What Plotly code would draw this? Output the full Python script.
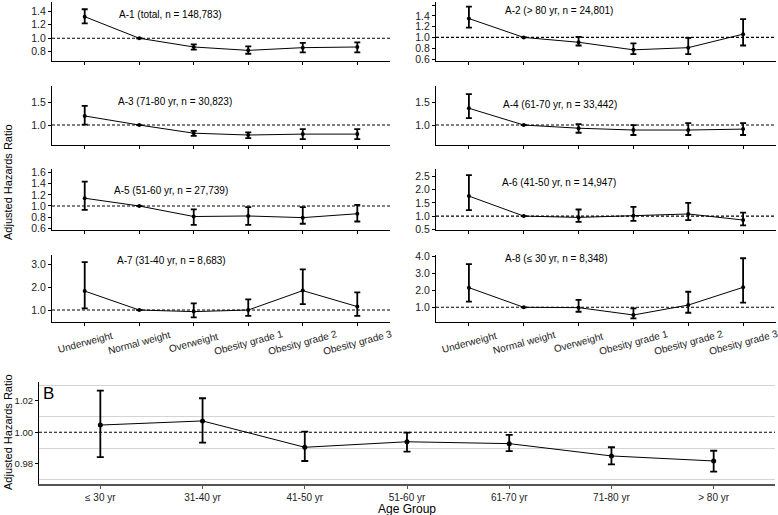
import plotly.graph_objects as go

W, H = 778, 515

# ---------------- data ----------------
bmi_categories = ["Underweight", "Normal weight", "Overweight",
                  "Obesity grade 1", "Obesity grade 2", "Obesity grade 3"]

panel_titles = ["A-1 (total, n = 148,783)", "A-2 (> 80 yr, n = 24,801)",
                "A-3 (71-80 yr, n = 30,823)", "A-4 (61-70 yr, n = 33,442)",
                "A-5 (51-60 yr, n = 27,739)", "A-6 (41-50 yr, n = 14,947)",
                "A-7 (31-40 yr, n = 8,683)", "A-8 (\u2264 30 yr, n = 8,348)"]

a1_hr = [1.32, 1.00, 0.87, 0.82, 0.86, 0.87]
a1_lo = [1.22, None, 0.83, 0.77, 0.79, 0.79]
a1_hi = [1.43, None, 0.91, 0.88, 0.93, 0.94]

a2_hr = [1.35, 1.00, 0.91, 0.77, 0.81, 1.06]
a2_lo = [1.18, None, 0.85, 0.69, 0.69, 0.85]
a2_hi = [1.57, None, 1.01, 0.89, 0.99, 1.34]

a3_hr = [1.20, 1.00, 0.82, 0.78, 0.80, 0.80]
a3_lo = [1.01, None, 0.76, 0.71, 0.69, 0.69]
a3_hi = [1.42, None, 0.87, 0.84, 0.91, 0.91]

a4_hr = [1.37, 1.00, 0.93, 0.89, 0.89, 0.91]
a4_lo = [1.15, None, 0.83, 0.78, 0.78, 0.78]
a4_hi = [1.68, None, 1.02, 1.00, 1.04, 1.04]

a5_hr = [1.14, 1.00, 0.81, 0.82, 0.79, 0.86]
a5_lo = [0.93, None, 0.66, 0.66, 0.68, 0.72]
a5_hi = [1.44, None, 0.94, 0.98, 0.98, 1.02]

a6_hr = [1.76, 1.00, 0.95, 1.01, 1.08, 0.85]
a6_lo = [1.23, None, 0.78, 0.82, 0.85, 0.65]
a6_hi = [2.56, None, 1.25, 1.35, 1.50, 1.13]

a7_hr = [1.83, 1.00, 0.93, 1.00, 1.85, 1.15]
a7_lo = [1.07, None, 0.68, 0.74, 1.26, 0.74]
a7_hi = [3.10, None, 1.29, 1.47, 2.78, 1.77]

a8_hr = [2.15, 1.00, 0.98, 0.55, 1.13, 2.17]
a8_lo = [1.33, None, 0.74, 0.35, 0.68, 1.27]
a8_hi = [3.53, None, 1.43, 0.94, 1.91, 3.87]

a_ticks = [[0.8, 1.0, 1.2, 1.4], [0.6, 0.8, 1.0, 1.2, 1.4, 1.6],
           [1.0, 1.5], [1.0, 1.5],
           [0.6, 0.8, 1.0, 1.2, 1.4, 1.6], [0.5, 1.0, 1.5, 2.0, 2.5],
           [1.0, 2.0, 3.0], [1.0, 2.0, 3.0, 4.0]]
a_ranges = [[0.662, 1.538], [0.563, 1.656], [0.56, 1.86], [0.56, 1.86],
            [0.576, 1.667], [0.49, 2.79], [0.475, 3.41], [0.14, 4.06]]

age_groups = ["\u2264 30 yr", "31-40 yr", "41-50 yr", "51-60 yr",
              "61-70 yr", "71-80 yr", "> 80 yr"]
b_hr = [1.0046, 1.0072, 0.9905, 0.9940, 0.9928, 0.9850, 0.9818]
b_lo = [0.9843, 0.9934, 0.9818, 0.9877, 0.9881, 0.9797, 0.9750]
b_hi = [1.0264, 1.0216, 1.0004, 0.9998, 0.9983, 0.9905, 0.9883]
b_ticks = [0.98, 1.00, 1.02]
b_grid = [0.97, 0.99, 1.01, 1.03]
b_range = [0.9672, 1.0319]

a_series = [(a1_hr, a1_lo, a1_hi), (a2_hr, a2_lo, a2_hi), (a3_hr, a3_lo, a3_hi),
            (a4_hr, a4_lo, a4_hi), (a5_hr, a5_lo, a5_hi), (a6_hr, a6_lo, a6_hi),
            (a7_hr, a7_lo, a7_hi), (a8_hr, a8_lo, a8_hi)]

# ---------------- layout helpers ----------------
FONT = "Liberation Sans, Arial, sans-serif"
TICKCOL = "#222222"

def xd(a, b):
    return [a / W, b / W]

def yd(top, bot):
    return [1 - bot / H, 1 - top / H]

col_x = [xd(52, 390), xd(436, 776)]
row_y = [yd(2, 61), yd(86, 145), yd(169, 229.5), yd(255, 322)]
title_pos = [(170, 14), (559, 11), (175, 102), (560, 104),
             (171, 191), (559, 182), (171, 260), (556, 258)]

fig = go.Figure()
layout = dict(template="none", width=W, height=H,
              margin=dict(l=0, r=0, t=0, b=0, pad=0),
              paper_bgcolor="white", plot_bgcolor="white", showlegend=False,
              font=dict(family=FONT, color="black"))
annotations = []
shapes = []

def err_arrays(hr, lo, hi):
    plus = [None if h is None else h - v for v, h in zip(hr, hi)]
    minus = [None if l is None else v - l for v, l in zip(hr, lo)]
    return plus, minus

for i, (hr, lo, hi) in enumerate(a_series):
    n = i + 1
    row, col = i // 2, i % 2
    xa = "x" if n == 1 else f"x{n}"
    ya = "y" if n == 1 else f"y{n}"
    plus, minus = err_arrays(hr, lo, hi)
    fig.add_trace(go.Scatter(
        x=bmi_categories, y=hr, xaxis=xa, yaxis=ya, mode="lines+markers",
        line=dict(color="black", width=1),
        marker=dict(color="black", size=4),
        error_y=dict(type="data", symmetric=False, array=plus, arrayminus=minus,
                     color="black", thickness=1.8, width=3),
        hoverinfo="skip"))
    layout["xaxis" if n == 1 else f"xaxis{n}"] = dict(
        domain=col_x[col], anchor=ya, type="category",
        categoryorder="array", categoryarray=bmi_categories,
        range=[-0.6, 5.6], showline=True, linecolor="black", linewidth=1,
        ticks="outside", ticklen=3, tickcolor="black", tickwidth=1,
        showticklabels=False, showgrid=False, zeroline=False, fixedrange=True,
        automargin=False)
    layout["yaxis" if n == 1 else f"yaxis{n}"] = dict(
        domain=row_y[row], anchor=xa, range=a_ranges[i],
        tickvals=a_ticks[i], ticktext=[f"{v:.1f}" for v in a_ticks[i]],
        showline=True, linecolor="black", linewidth=1,
        ticks="outside", ticklen=3, tickcolor="black", tickwidth=1,
        tickfont=dict(size=10.5, color=TICKCOL, family=FONT),
        showgrid=False, zeroline=False, fixedrange=True, automargin=False)
    shapes.append(dict(type="line", xref=f"{xa} domain", yref=ya,
                       x0=0, x1=1, y0=1, y1=1, layer="below",
                       line=dict(color="black", width=1.1, dash="3px,2px")))
    tx, ty = title_pos[i]
    annotations.append(dict(text=panel_titles[i], x=tx / W, y=1 - ty / H,
                            xref="paper", yref="paper", showarrow=False,
                            xanchor="center", yanchor="middle",
                            font=dict(size=10, color="black", family=FONT)))
    if row == 3:
        for c in bmi_categories:
            annotations.append(dict(text=c, x=c, xref=xa, y=1 - 342 / H,
                                    yref="paper", showarrow=False, textangle=-15,
                                    xanchor="center", yanchor="middle",
                                    font=dict(size=10, color=TICKCOL, family=FONT)))

# ---------------- panel B ----------------
plus, minus = err_arrays(b_hr, b_lo, b_hi)
fig.add_trace(go.Scatter(
    x=age_groups, y=b_hr, xaxis="x9", yaxis="y9", mode="lines+markers",
    line=dict(color="black", width=1),
    marker=dict(color="black", size=5),
    error_y=dict(type="data", symmetric=False, array=plus, arrayminus=minus,
                 color="black", thickness=1.8, width=3.5),
    hoverinfo="skip"))
layout["xaxis9"] = dict(
    domain=xd(39, 775), anchor="y9", type="category",
    categoryorder="array", categoryarray=age_groups, range=[-0.6, 6.6],
    showline=True, linecolor="#555555", linewidth=2.2,
    ticks="outside", ticklen=3, tickcolor="#555555", tickwidth=1,
    tickfont=dict(size=10, color=TICKCOL, family=FONT),
    showgrid=False, zeroline=False, fixedrange=True, automargin=False)
layout["yaxis9"] = dict(
    domain=yd(382, 484), anchor="x9", range=b_range,
    tickvals=b_ticks, ticktext=[f"{v:.2f}" for v in b_ticks],
    showline=True, linecolor="black", linewidth=1,
    ticks="outside", ticklen=3, tickcolor="black", tickwidth=1,
    tickfont=dict(size=9.5, color=TICKCOL, family=FONT),
    showgrid=False, zeroline=False, fixedrange=True, automargin=False,
    minor=dict(tickvals=b_grid, showgrid=True, gridcolor="#d4d4d4",
               gridwidth=1, ticks=""))
shapes.append(dict(type="line", xref="x9 domain", yref="y9",
                   x0=0, x1=1, y0=1, y1=1,
                   line=dict(color="black", width=1.1, dash="3px,2px")))

annotations.append(dict(text="Age Group", x=407 / W, y=1 - 508.5 / H, xref="paper",
                        yref="paper", showarrow=False, xanchor="center",
                        yanchor="middle", font=dict(size=12, color="black", family=FONT)))
annotations.append(dict(text="B", x=48 / W, y=1 - 393 / H, xref="paper",
                        yref="paper", showarrow=False, xanchor="center",
                        yanchor="middle", font=dict(size=17, color="black", family=FONT)))
annotations.append(dict(text="Adjusted Hazards Ratio", x=8 / W, y=1 - 182 / H,
                        xref="paper", yref="paper", showarrow=False, textangle=-90,
                        xanchor="center", yanchor="middle",
                        font=dict(size=11, color="black", family=FONT)))
annotations.append(dict(text="Adjusted Hazards Ratio", x=8 / W, y=1 - 432 / H,
                        xref="paper", yref="paper", showarrow=False, textangle=-90,
                        xanchor="center", yanchor="middle",
                        font=dict(size=11, color="black", family=FONT)))

layout["annotations"] = annotations
layout["shapes"] = shapes
fig.update_layout(**layout)
fig.write_html("out.html",
               config={"displayModeBar": False, "staticPlot": True},
               post_script="document.body.style.margin='0';"
                           "document.body.style.padding='0';"
                           "document.body.style.overflow='hidden';")
